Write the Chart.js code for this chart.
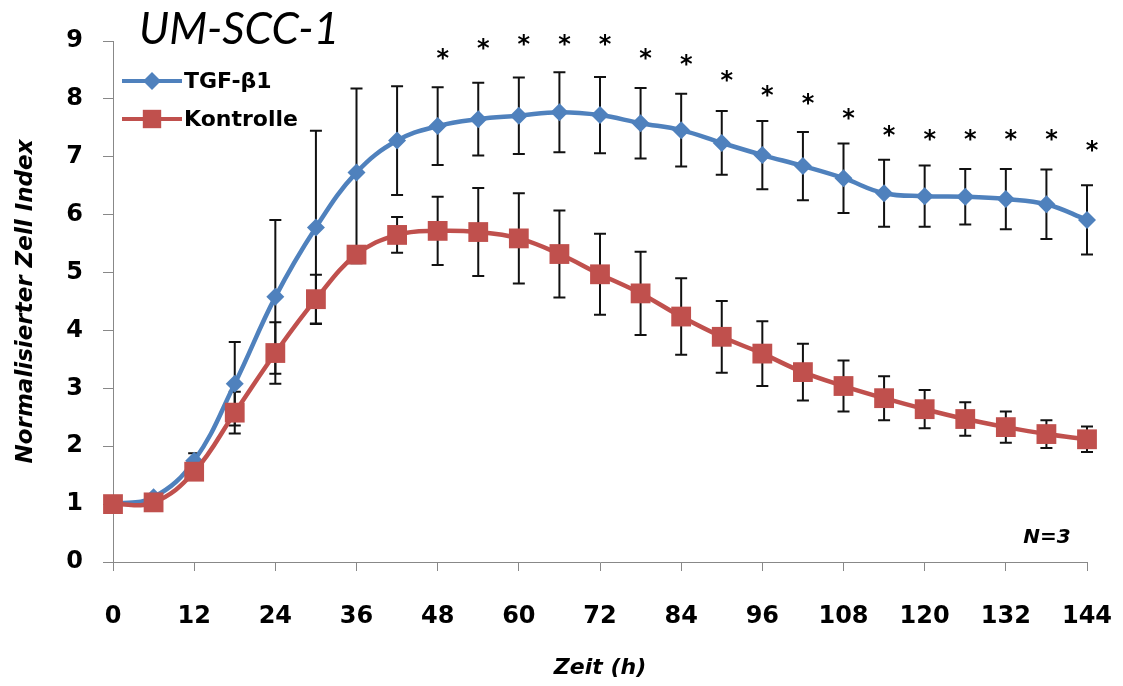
<!DOCTYPE html>
<html>
<head>
<meta charset="utf-8">
<script src="https://cdn.jsdelivr.net/npm/chart.js@4.4.1/dist/chart.umd.min.js"></script>
<style>
  body { margin: 0; background: #fff; }
  #wrap { width: 1123px; height: 686px; }
</style>
</head>
<body>
<div id="wrap"><canvas id="myChart" width="1123" height="686"></canvas></div>
<script>
// ================= Data =================
const hours = [0, 6, 12, 18, 24, 30, 36, 42, 48, 54, 60, 66, 72, 78, 84, 90, 96, 102, 108, 114, 120, 126, 132, 138, 144];

const tgf    = [1.00, 1.12, 1.75, 3.08, 4.58, 5.78, 6.73, 7.28, 7.53, 7.65, 7.71, 7.77, 7.72, 7.58, 7.46, 7.24, 7.03, 6.84, 6.63, 6.37, 6.32, 6.31, 6.27, 6.18, 5.91];
const tgfErr = [0.00, 0.03, 0.13, 0.72, 1.33, 1.67, 1.45, 0.94, 0.67, 0.63, 0.66, 0.69, 0.66, 0.61, 0.63, 0.55, 0.59, 0.59, 0.60, 0.58, 0.53, 0.48, 0.52, 0.60, 0.60];

const ctrl    = [1.00, 1.03, 1.56, 2.58, 3.61, 4.54, 5.31, 5.65, 5.72, 5.70, 5.59, 5.32, 4.97, 4.64, 4.24, 3.89, 3.60, 3.28, 3.04, 2.83, 2.64, 2.47, 2.33, 2.21, 2.12];
const ctrlErr = [0.00, 0.03, 0.10, 0.36, 0.53, 0.42, 0.15, 0.31, 0.59, 0.76, 0.78, 0.75, 0.70, 0.72, 0.66, 0.62, 0.56, 0.49, 0.44, 0.38, 0.33, 0.29, 0.27, 0.24, 0.22];

// significance stars (hour, height on y scale)
const starHours = [48, 54, 60, 66, 72, 78, 84, 90, 96, 102, 108, 114, 120, 126, 132, 138, 144];
const starY     = [8.76, 8.93, 9.00, 9.00, 9.00, 8.76, 8.65, 8.39, 8.12, 7.98, 7.72, 7.44, 7.36, 7.36, 7.36, 7.36, 7.18];

const xTicks = [0, 12, 24, 36, 48, 60, 72, 84, 96, 108, 120, 132, 144];
const yTicks = [0, 1, 2, 3, 4, 5, 6, 7, 8, 9];

const BLUE = '#4F81BD';
const RED = '#C0504D';
const FONT = '"DejaVu Sans", sans-serif';
const TITLE_FONT = 'Lato, "Open Sans", sans-serif';

// ================= Plugins =================
const errorBars = {
  id: 'errorBars',
  beforeDatasetsDraw(chart) {
    const { ctx, scales: { x, y } } = chart;
    ctx.save();
    ctx.strokeStyle = '#111';
    ctx.lineWidth = 2;
    [[tgf, tgfErr], [ctrl, ctrlErr]].forEach(([vals, errs]) => {
      vals.forEach((v, i) => {
        if (!errs[i]) return;
        const px = x.getPixelForValue(hours[i]);
        const top = y.getPixelForValue(v + errs[i]);
        const bot = y.getPixelForValue(v - errs[i]);
        ctx.beginPath();
        ctx.moveTo(px, top); ctx.lineTo(px, bot);
        ctx.moveTo(px - 6, top); ctx.lineTo(px + 6, top);
        ctx.moveTo(px - 6, bot); ctx.lineTo(px + 6, bot);
        ctx.stroke();
      });
    });
    ctx.restore();
  }
};

const extras = {
  id: 'extras',
  afterDraw(chart) {
    const { ctx, scales: { x, y } } = chart;
    ctx.save();
    // stars
    ctx.fillStyle = '#000';
    ctx.font = 'bold 24px ' + FONT;
    ctx.textAlign = 'center';
    ctx.textBaseline = 'middle';
    starHours.forEach((h, i) => {
      ctx.fillText('*', x.getPixelForValue(h) + 5, y.getPixelForValue(starY[i]) + 5);
    });

    // title
    ctx.textAlign = 'left';
    ctx.font = 'italic 44px ' + TITLE_FONT;
    ctx.fillText('UM-SCC-1', 139, 30);

    // N=3
    ctx.textAlign = 'center';
    ctx.font = 'bold italic 20px ' + FONT;
    ctx.fillText('N=3', 1047, 538);

    // legend
    const items = [
      { label: 'TGF-\u03b21', color: BLUE, style: 'rectRot', r: 9, yy: 81 },
      { label: 'Kontrolle', color: RED, style: 'rect', r: 13, yy: 119 }
    ];
    items.forEach(it => {
      ctx.strokeStyle = it.color;
      ctx.lineWidth = 4;
      ctx.beginPath();
      ctx.moveTo(122, it.yy); ctx.lineTo(182, it.yy);
      ctx.stroke();
      ctx.fillStyle = it.color;
      Chart.helpers.drawPoint(ctx, { pointStyle: it.style, radius: it.r, borderWidth: 0 }, 152, it.yy);
      ctx.fillStyle = '#000';
      ctx.textAlign = 'left';
      ctx.font = 'bold 22px ' + FONT;
      ctx.fillText(it.label, 184, it.yy + 1);
    });
    ctx.restore();
  }
};

// ================= Chart =================
const ctx = document.getElementById('myChart');

new Chart(ctx, {
  type: 'line',
  data: {
    labels: hours,
    datasets: [
      {
        label: 'TGF-\u03b21',
        data: hours.map((h, i) => ({ x: h, y: tgf[i] })),
        borderColor: BLUE,
        backgroundColor: BLUE,
        borderWidth: 4.5,
        pointStyle: 'rectRot',
        pointRadius: 9,
        pointBorderWidth: 0,
        tension: 0.4,
        clip: false,
        order: 2
      },
      {
        label: 'Kontrolle',
        data: hours.map((h, i) => ({ x: h, y: ctrl[i] })),
        borderColor: RED,
        backgroundColor: RED,
        borderWidth: 4.5,
        pointStyle: 'rect',
        pointRadius: 14,
        pointBorderWidth: 0,
        tension: 0.4,
        clip: false,
        order: 1
      }
    ]
  },
  options: {
    responsive: false,
    animation: false,
    layout: { padding: { left: 0, right: 36, top: 41, bottom: 0 } },
    plugins: {
      legend: { display: false },
      tooltip: { enabled: false }
    },
    scales: {
      x: {
        type: 'linear',
        min: 0,
        max: 144,
        afterFit: s => { s.height = 124; s.paddingLeft = 0; s.paddingRight = 0; },
        afterBuildTicks: s => { s.ticks = xTicks.map(v => ({ value: v })); },
        grid: { drawOnChartArea: false, drawTicks: true, tickLength: 9, color: '#888' },
        border: { display: true, color: '#888', width: 1 },
        ticks: {
          color: '#000',
          padding: 31,
          maxRotation: 0,
          font: { family: FONT, size: 24, weight: 'bold' }
        },
        title: {
          display: true,
          text: 'Zeit (h)',
          color: '#000',
          padding: { top: 0, bottom: 5 },
          font: { family: FONT, size: 22, weight: 'bold', style: 'italic' }
        }
      },
      y: {
        min: 0,
        max: 9,
        afterFit: s => { s.width = 113; s.paddingTop = 0; s.paddingBottom = 0; },
        afterBuildTicks: s => { s.ticks = yTicks.map(v => ({ value: v })); },
        grid: { drawOnChartArea: false, drawTicks: true, tickLength: 10, color: '#888' },
        border: { display: true, color: '#888', width: 1 },
        ticks: {
          color: '#000',
          padding: 20,
          font: { family: FONT, size: 24, weight: 'bold' }
        },
        title: {
          display: true,
          text: 'Normalisierter Zell Index',
          color: '#000',
          padding: { top: 12, bottom: 0 },
          font: { family: FONT, size: 23, weight: 'bold', style: 'italic' }
        }
      }
    }
  },
  plugins: [errorBars, extras]
});
</script>
</body>
</html>
